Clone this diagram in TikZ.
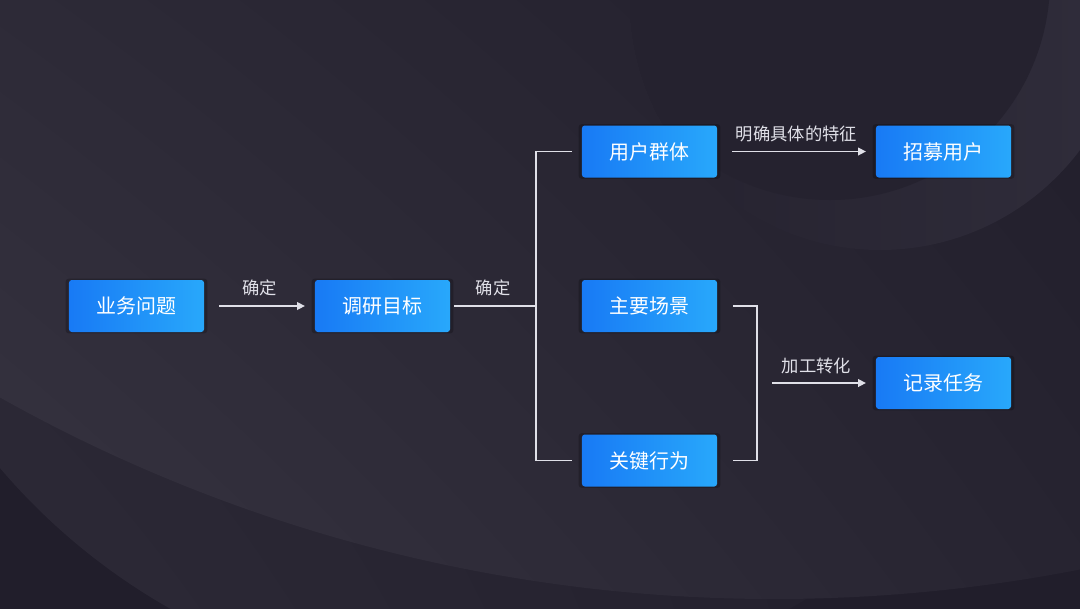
\documentclass[tikz,border=0pt]{standalone}
\usepackage{fontspec}
\setmainfont{Noto Sans CJK SC}
\usetikzlibrary{arrows.meta, shadows, shadings}
\definecolor{bgdark}{RGB}{33,30,43}
\definecolor{bgmid}{RGB}{45,42,55}
\definecolor{bgsoft}{RGB}{39,36,49}
\definecolor{bglight}{RGB}{55,52,65}
\definecolor{bgring}{RGB}{48,45,59}
\definecolor{bginner}{RGB}{37,34,47}
\definecolor{boxblue}{RGB}{24,122,245}
\definecolor{boxcyan}{RGB}{40,168,251}
\definecolor{linegrey}{RGB}{224,224,232}
\tikzset{
    taskbox/.style={rounded corners=2pt, left color=boxblue, right color=boxcyan, text=white, minimum width=3.375cm, minimum height=1.3cm, inner sep=0pt, font=\fontsize{14.2}{17}\selectfont, general shadow={fill=black, opacity=0.22, shadow scale=1.05}},
    flowarrow/.style={-{Triangle[length=5.5pt,width=5.5pt]}, line width=1pt, draw=linegrey, shorten <=10.5pt, shorten >=7pt},
    bracketline/.style={line width=1pt, draw=linegrey},
    note/.style={font=\fontsize{12.3}{14}\selectfont, text=linegrey, above=3pt}
}

\begin{document}
\begin{tikzpicture}[x=0.025cm,y=-0.025cm]
    \useasboundingbox (0,0) rectangle (1080,608);
    \clip (0,0) rectangle (1080,608);
    % Backdrop with soft circles
    \fill[bgdark] (-20,-20) rectangle (1100,628);
    \begin{scope}
        \clip (480,60) circle (630);
        \shade[upper left=bgsoft, lower left=bgmid, upper right=bgdark, lower right=bgdark] (-20,-20) rectangle (1100,628);
    \end{scope}
    \begin{scope}
        \clip (774,-986) circle (1585);
        \shade[upper left=bgmid, lower left=bglight, upper right=bgdark, lower right=bgsoft] (-20,-20) rectangle (1100,628);
    \end{scope}
    \shade[left color=bginner, right color=bgring] (880,0) circle (250);
    \begin{scope}
        \clip (880,0) circle (250);
        \fill[bginner] (830,-20) circle (220);
    \end{scope}

    % Nodes
    \node[taskbox] (biz)     at (136.5,306)   {业务问题};
    \node[taskbox] (goal)    at (382.5,306)   {调研目标};
    \node[taskbox] (users)   at (649.5,151.5) {用户群体};
    \node[taskbox] (scene)   at (649.5,306)   {主要场景};
    \node[taskbox] (action)  at (649.5,460.5) {关键行为};
    \node[taskbox] (recruit) at (943.5,151.5) {招募用户};
    \node[taskbox] (record)  at (943.5,383)   {记录任务};
    \coordinate (split) at (536,306);
    \coordinate (merge) at (757,383);

    % Main flow
    \draw[flowarrow] (biz) -- node[note] {确定} (goal);
    \draw[bracketline, shorten <=2.8pt] (goal) -- node[note] {确定} (split);

    % Split into the three research points
    \draw[bracketline] ([xshift=-7pt]users.west) -| (split) |- ([xshift=-7pt]action.west);
    \draw[flowarrow] (users) -- node[note] {明确具体的特征} (recruit);

    % Scene and behaviour merge into the task
    \draw[bracketline] ([xshift=11pt]scene.east) -| (merge) |- ([xshift=11pt]action.east);
    \draw[flowarrow] (merge) -- node[note] {加工转化} (record);
\end{tikzpicture}
\end{document}
